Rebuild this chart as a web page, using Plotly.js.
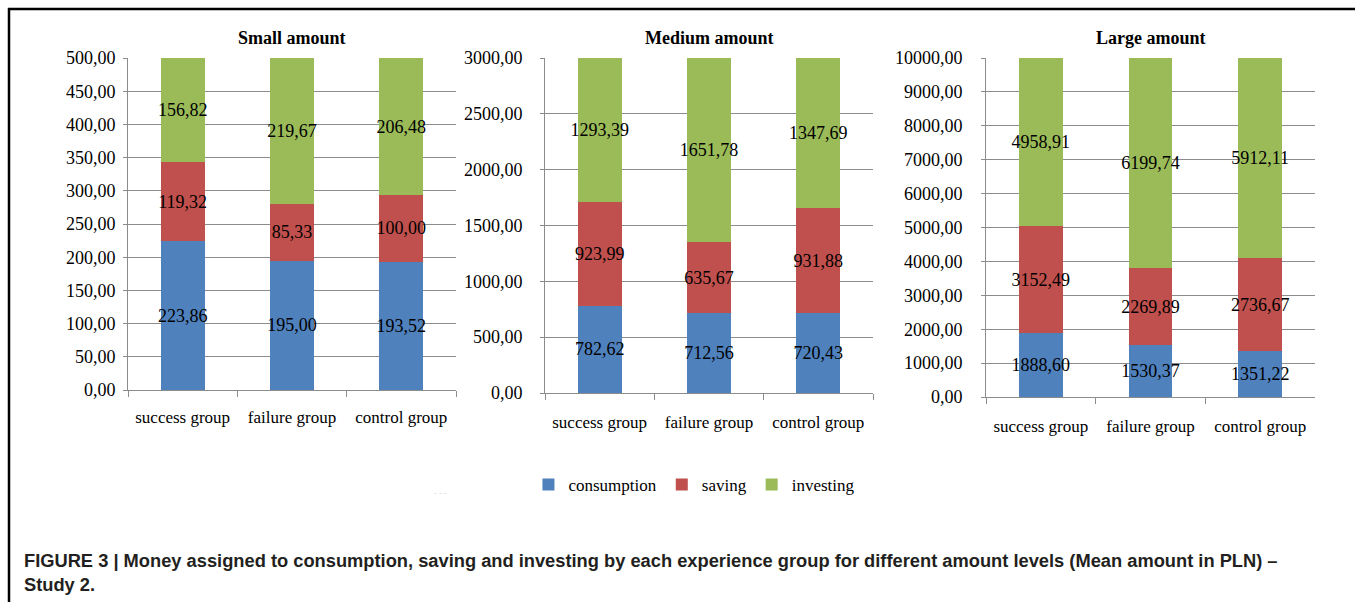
<!DOCTYPE html>
<html>
<head>
<meta charset="utf-8">
<script src="https://cdn.plot.ly/plotly-3.0.1.min.js"></script>
<style>html,body{margin:0;padding:0;background:#fff;}#chart{width:1355px;height:602px;}</style>
</head>
<body>
<div id="chart"></div>
<script>
const groups = ['success group', 'failure group', 'control group'];
const seriesNames = ['consumption', 'saving', 'investing'];

const smallConsumption = [223.86, 195.00, 193.52];
const smallSaving = [119.32, 85.33, 100.00];
const smallInvesting = [156.82, 219.67, 206.48];

const mediumConsumption = [782.62, 712.56, 720.43];
const mediumSaving = [923.99, 635.67, 931.88];
const mediumInvesting = [1293.39, 1651.78, 1347.69];

const largeConsumption = [1888.60, 1530.37, 1351.22];
const largeSaving = [3152.49, 2269.89, 2736.67];
const largeInvesting = [4958.91, 6199.74, 5912.11];

const panelTitles = ['Small amount', 'Medium amount', 'Large amount'];
const yMax = [500, 3000, 10000];
const yStep = [50, 500, 1000];

const colors = ['#4F81BD', '#C0504D', '#9BBB59'];
const serif = 'Liberation Serif, Times New Roman, serif';

const panels = [
  [smallConsumption, smallSaving, smallInvesting],
  [mediumConsumption, mediumSaving, mediumInvesting],
  [largeConsumption, largeSaving, largeInvesting]
];

const W = 1355, H = 602;
// plot boxes in pixels: [left, right, top, bottom]
const boxes = [[128, 456, 58, 390], [545, 873, 58, 393], [986, 1315, 58, 397]];
const standoffs = [4, 14, 15];
const xStandoffs = [12, 14, 14];

const traces = [];
panels.forEach((series, p) => {
  const sfx = p === 0 ? '' : String(p + 1);
  series.forEach((vals, s) => {
    traces.push({
      type: 'bar',
      x: groups,
      y: vals,
      name: seriesNames[s],
      legendgroup: seriesNames[s],
      showlegend: p === 0,
      marker: {color: colors[s], line: {width: 0}},
      texttemplate: '%{y:.2f}',
      textposition: 'inside',
      insidetextanchor: 'middle',
      textangle: 0,
      constraintext: 'none',
      textfont: {family: serif, size: 18, color: '#000'},
      xaxis: 'x' + sfx,
      yaxis: 'y' + sfx,
      hoverinfo: 'x+y+name'
    });
  });
});

const layout = {
  width: W, height: H,
  margin: {l: 0, r: 0, t: 0, b: 0},
  paper_bgcolor: '#fff',
  plot_bgcolor: '#fff',
  barmode: 'stack',
  bargap: 0.6,
  separators: ',.',
  font: {family: serif, size: 17, color: '#000'},
  showlegend: true,
  legend: {
    orientation: 'h', x: 0.390, y: 1 - 485 / H, xanchor: 'left', yanchor: 'middle',
    font: {family: serif, size: 17, color: '#000'},
    traceorder: 'normal', itemclick: false
  },
  annotations: [],
  shapes: [
    {type: 'line', xref: 'paper', yref: 'paper', x0: 8 / W, x1: 1, y0: 1 - 9 / H, y1: 1 - 9 / H, line: {color: '#000', width: 2.5}},
    {type: 'line', xref: 'paper', yref: 'paper', x0: 9 / W, x1: 9 / W, y0: 1 - 8 / H, y1: 0, line: {color: '#000', width: 2.5}}
  ]
};

boxes.forEach((b, p) => {
  const sfx = p === 0 ? '' : String(p + 1);
  layout['xaxis' + sfx] = {
    domain: [b[0] / W, b[1] / W],
    anchor: 'y' + sfx,
    showline: true, linecolor: '#8c8c8c', linewidth: 1,
    ticks: 'outside', tickson: 'boundaries', ticklen: 6, tickcolor: '#8c8c8c',
    tickfont: {family: serif, size: 17, color: '#000'},
    ticklabelstandoff: xStandoffs[p],
    showgrid: false, fixedrange: true
  };
  layout['yaxis' + sfx] = {
    domain: [1 - b[3] / H, 1 - b[2] / H],
    anchor: 'x' + sfx,
    range: [0, yMax[p]],
    dtick: yStep[p], tick0: 0,
    tickformat: '.2f',
    showline: true, linecolor: '#8c8c8c', linewidth: 1,
    ticks: 'outside', ticklen: 4, tickcolor: '#8c8c8c',
    showgrid: true, gridcolor: '#8c8c8c', gridwidth: 1,
    zeroline: false,
    tickfont: {family: serif, size: 18, color: '#000'},
    ticklabelstandoff: standoffs[p],
    fixedrange: true
  };
  layout.annotations.push({
    xref: 'paper', yref: 'paper',
    x: (b[0] + b[1]) / 2 / W, y: 1 - 38 / H,
    xanchor: 'center', yanchor: 'middle',
    text: '<b>' + panelTitles[p] + '</b>', showarrow: false,
    font: {family: serif, size: 18, color: '#000'}
  });
});

layout.annotations.push({
  xref: 'paper', yref: 'paper', x: 440 / W, y: 1 - 492 / H,
  xanchor: 'center', yanchor: 'middle', text: '- - -', showarrow: false,
  font: {family: 'Liberation Sans, Arial, sans-serif', size: 8, color: '#cfcfcf'}
});

layout.annotations.push({
  xref: 'paper', yref: 'paper', x: 22 / W, y: 1 - 548 / H,
  xanchor: 'left', yanchor: 'top', align: 'left', showarrow: false,
  text: '<b>FIGURE 3 | Money assigned to consumption, saving and investing by each experience group for different amount levels (Mean amount in PLN) –<br>Study 2.</b>',
  font: {family: 'Liberation Sans, Arial, Helvetica, sans-serif', size: 18.3, color: '#231f20'}
});

Plotly.newPlot('chart', traces, layout, {displayModeBar: false, staticPlot: true});
</script>
</body>
</html>
